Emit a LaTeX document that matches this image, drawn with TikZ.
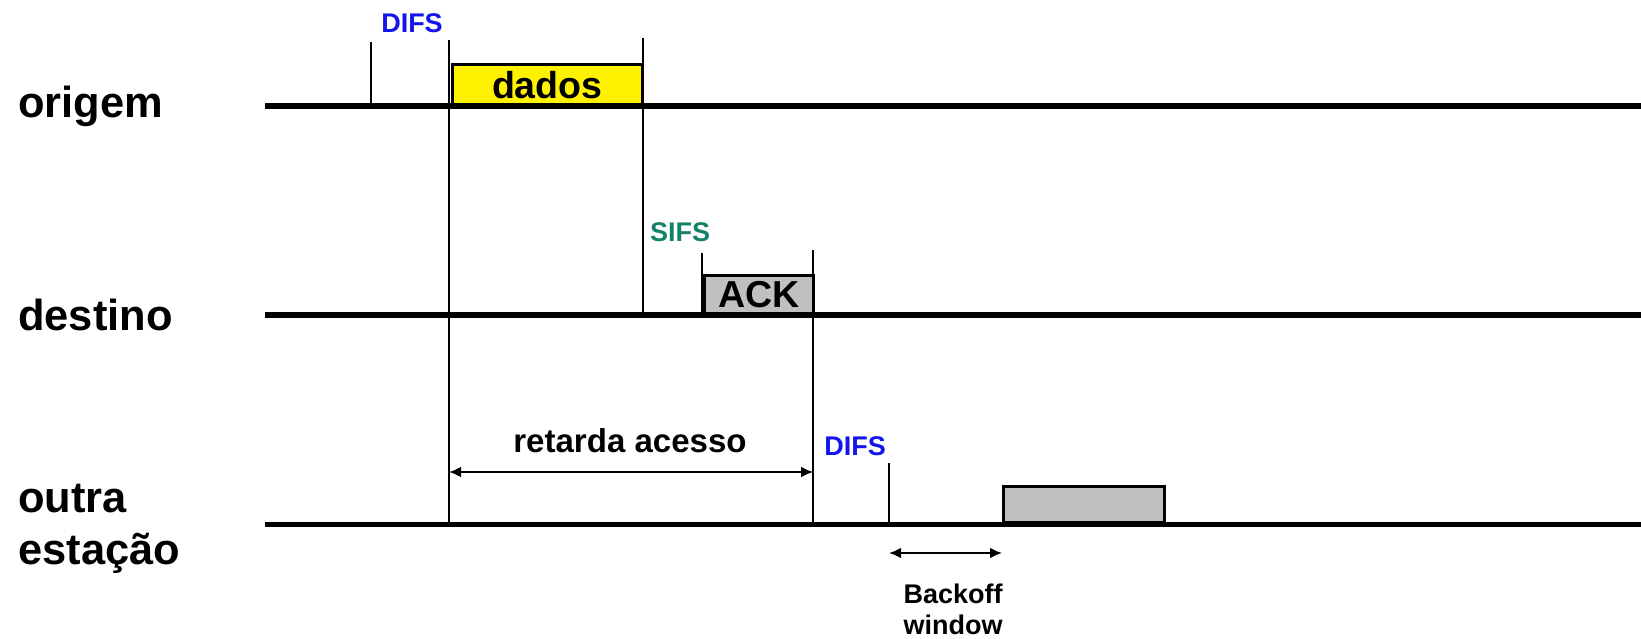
\documentclass[tikz,border=0pt]{standalone}
\usepackage{fontspec}
\setmainfont{Liberation Sans}
\usetikzlibrary{arrows.meta}

\definecolor{difsblue}{RGB}{20,20,240}
\definecolor{sifsgreen}{RGB}{20,130,105}
\definecolor{quadrogray}{RGB}{192,192,192}

\tikzset{
  timeline/.style={line width=3.9pt},
  marca/.style={line width=1.6pt},
  quadro/.style={draw, line width=2.1pt, inner sep=0pt},
  estacao/.style={font=\fontsize{30.9}{37}\selectfont\bfseries, inner sep=0pt, align=left},
  espaco/.style={font=\fontsize{19.2}{21}\selectfont\bfseries, inner sep=0pt, align=center},
  seta/.style={line width=1.5pt, {Latex[length=3mm,width=2.7mm]}-{Latex[length=3mm,width=2.7mm]}}
}

\begin{document}
\begin{tikzpicture}
\useasboundingbox (0,0) rectangle (41.025,15.95);

% estacoes
\node[estacao, anchor=west] (origem) at (0.45,13.3) {origem};
\node[estacao, anchor=west] (destino) at (0.45,8.08) {destino};
\node[estacao, anchor=west] (outra) at (0.45,2.74) {outra\\estação};

% quadros
\node[quadro, fill=yellow, anchor=south west, minimum width=4.74cm, minimum height=0.99cm,
      font=\fontsize{26.7}{30}\selectfont\bfseries] (dados) at (11.275,13.3) {dados};
\node[quadro, fill=quadrogray, anchor=south west, minimum width=2.73cm, minimum height=0.95cm,
      font=\fontsize{26.7}{30}\selectfont\bfseries] (ack) at (17.57,8.08) {ACK};
\node[quadro, fill=quadrogray, anchor=south west, minimum width=4.02cm, minimum height=0.91cm] (outroquadro) at (25.05,2.84) {};

% linhas de tempo
\draw[timeline] (6.62,13.3) -- (41.025,13.3);
\draw[timeline] (6.62,8.08) -- (41.025,8.08);
\draw[timeline] (6.62,2.84) -- (41.025,2.84);

% instantes
\coordinate (d1top) at (9.275,14.9);   \coordinate (d1bot) at (9.275,13.3);
\coordinate (t1top) at (11.225,14.95); \coordinate (t1bot) at (11.225,2.84);
\coordinate (t2top) at (16.075,15.0);  \coordinate (t2bot) at (16.075,8.08);
\coordinate (s1top) at (17.55,9.625);  \coordinate (s1bot) at (17.55,8.08);
\coordinate (t3top) at (20.33,9.7);    \coordinate (t3bot) at (20.33,2.84);
\coordinate (d2top) at (22.225,4.375); \coordinate (d2bot) at (22.225,2.84);
\coordinate (b2) at (25.05,2.125);     \coordinate (b1) at (22.225,2.125);
\coordinate (r1) at (11.225,4.15);     \coordinate (r2) at (20.33,4.15);

\draw[marca] (d1top) -- (d1bot);
\draw[marca] (t1top) -- (t1bot);
\draw[marca] (t2top) -- (t2bot);
\draw[marca] (s1top) -- (s1bot);
\draw[marca] (t3top) -- (t3bot);
\draw[marca] (d2top) -- (d2bot);

% intervalos
\node[espaco, text=difsblue] (difs1) at (10.3,15.375) {DIFS};
\node[espaco, text=sifsgreen] (sifs) at (17.0,10.15) {SIFS};
\node[espaco, text=difsblue] (difs2) at (21.375,4.8) {DIFS};

\draw[seta] (r1) -- (r2);
\node[font=\fontsize{23.5}{26}\selectfont\bfseries, inner sep=0pt] (retarda) at (15.75,4.925) {retarda acesso};

\draw[seta] (b1) -- (b2);
\node[espaco, font=\fontsize{19.2}{22}\selectfont\bfseries] (backoff) at (23.825,0.72) {Backoff\\window};
\end{tikzpicture}
\end{document}
